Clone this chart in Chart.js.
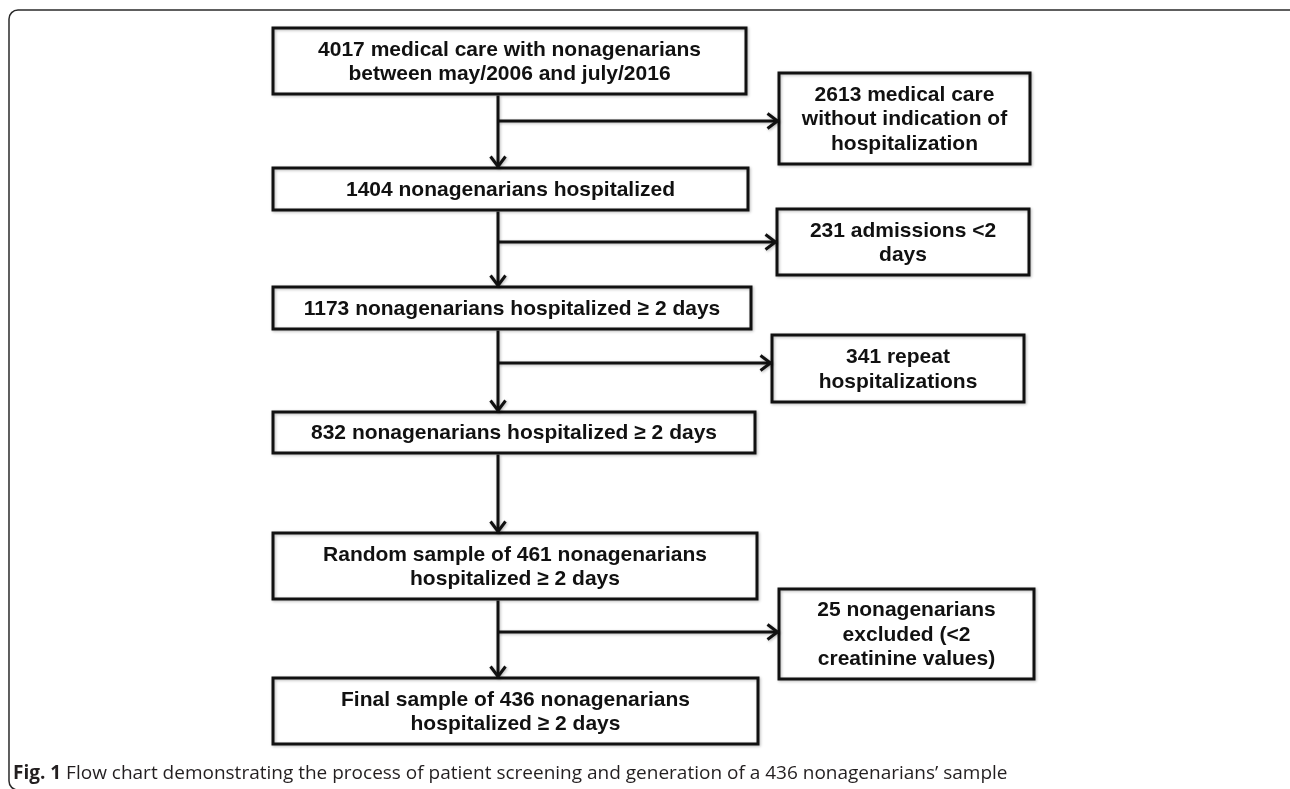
<!DOCTYPE html>
<html>
<head>
<meta charset="utf-8">
<script src="https://cdn.jsdelivr.net/npm/chart.js@4.4.1/dist/chart.umd.min.js"></script>
<style>
  html, body { margin: 0; padding: 0; background: #fff; }
  #wrap { position: relative; width: 1290px; height: 789px; }
</style>
</head>
<body>
<div id="wrap"><canvas id="flow"></canvas></div>
<script>
// ---- content ----
const stageLabels = [
  ['4017 medical care with nonagenarians', 'between may/2006 and july/2016'],
  ['1404 nonagenarians hospitalized'],
  ['1173 nonagenarians hospitalized \u2265 2 days'],
  ['832 nonagenarians hospitalized \u2265 2 days'],
  ['Random sample of 461 nonagenarians', 'hospitalized \u2265 2 days'],
  ['Final sample of 436 nonagenarians', 'hospitalized \u2265 2 days']
];
const excludedLabels = [
  ['2613 medical care', 'without indication of', 'hospitalization'],
  ['231 admissions <2', 'days'],
  ['341 repeat', 'hospitalizations'],
  ['25 nonagenarians', 'excluded (<2', 'creatinine values)']
];
// stage index that each exclusion branches off from
const excludedAfter = [0, 1, 2, 4];
const captionBold = 'Fig. 1';
const captionText = ' Flow chart demonstrating the process of patient screening and generation of a 436 nonagenarians\u2019 sample';

// ---- layout (page units, y down) ----
const stageBoxes = [   // x0, x1, y0, y1
  [273, 746, 28, 94],
  [273, 748, 168, 210],
  [273, 751, 287, 329],
  [273, 755, 412, 453],
  [273, 757, 533, 599],
  [273, 758, 678, 744]
];
const sideBoxes = [
  [779, 1030, 73, 164],
  [777, 1029, 209, 275],
  [772, 1024, 335, 402],
  [779, 1034, 589, 679]
];
const branchY = [121, 242, 363, 632];
const spineX = 498;

const INK = '#111111';
const BOX_FONT = "bold 21px 'Liberation Sans', Arial, Helvetica, sans-serif";
const LINE_H = 24.5;

const flowPlugin = {
  id: 'flow',
  afterDraw(chart) {
    const { ctx, scales: { x, y } } = chart;
    const px = v => x.getPixelForValue(v);
    const py = v => y.getPixelForValue(v);
    ctx.save();

    // outer frame (right side runs off the page)
    ctx.strokeStyle = '#2a2a2a';
    ctx.lineWidth = 1.5;
    ctx.beginPath();
    ctx.roundRect(px(9), py(10), px(1298) - px(9), py(790) - py(10), 9);
    ctx.stroke();

    ctx.lineJoin = 'miter';
    ctx.lineCap = 'butt';
    ctx.strokeStyle = INK;
    ctx.lineWidth = 3;
    ctx.shadowColor = 'rgba(0,0,0,0.28)';
    ctx.shadowBlur = 3;
    ctx.shadowOffsetX = 1;
    ctx.shadowOffsetY = 1;

    const box = b => {
      ctx.beginPath();
      ctx.rect(px(b[0]), py(b[2]), px(b[1]) - px(b[0]), py(b[3]) - py(b[2]));
      ctx.stroke();
    };
    const seg = (x0, y0, x1, y1) => {
      ctx.beginPath();
      ctx.moveTo(px(x0), py(y0));
      ctx.lineTo(px(x1), py(y1));
      ctx.stroke();
    };
    const headDown = (xt, yt) => {
      ctx.beginPath();
      ctx.moveTo(px(xt - 7.5), py(yt - 11));
      ctx.lineTo(px(xt), py(yt - 1));
      ctx.lineTo(px(xt + 7.5), py(yt - 11));
      ctx.stroke();
    };
    const headRight = (xt, yt) => {
      ctx.beginPath();
      ctx.moveTo(px(xt - 11), py(yt - 7.5));
      ctx.lineTo(px(xt - 1), py(yt));
      ctx.lineTo(px(xt - 11), py(yt + 7.5));
      ctx.stroke();
    };

    stageBoxes.forEach(box);
    sideBoxes.forEach(box);

    // vertical spine with arrowheads
    for (let i = 0; i < stageBoxes.length - 1; i++) {
      const top = stageBoxes[i][3] + 1.5;
      const bot = stageBoxes[i + 1][2] - 1.5;
      seg(spineX, top, spineX, bot);
      headDown(spineX, bot + 1);
    }
    // exclusion branches
    excludedAfter.forEach((s, k) => {
      const xe = sideBoxes[k][0] - 1.5;
      seg(spineX, branchY[k], xe, branchY[k]);
      headRight(xe + 1, branchY[k]);
    });

    // texts
    ctx.shadowColor = 'transparent';
    ctx.fillStyle = INK;
    ctx.font = BOX_FONT;
    ctx.textAlign = 'center';
    ctx.textBaseline = 'middle';
    const label = (b, lines) => {
      const cx = (b[0] + b[1]) / 2;
      const cy = (b[2] + b[3]) / 2 + 1;
      lines.forEach((t, i) => {
        ctx.fillText(t, px(cx), py(cy + (i - (lines.length - 1) / 2) * LINE_H));
      });
    };
    stageBoxes.forEach((b, i) => label(b, stageLabels[i]));
    sideBoxes.forEach((b, i) => label(b, excludedLabels[i]));

    // caption
    ctx.textAlign = 'left';
    ctx.textBaseline = 'alphabetic';
    ctx.fillStyle = '#231f20';
    ctx.font = "bold 19px 'Open Sans', sans-serif";
    ctx.fillText(captionBold, px(13), py(779));
    const w = ctx.measureText(captionBold).width;
    ctx.font = "19px 'Open Sans', sans-serif";
    ctx.fillText(captionText, px(13) + w, py(779));

    ctx.restore();
  }
};

new Chart(document.getElementById('flow'), {
  type: 'scatter',
  data: { datasets: [{ data: [], pointRadius: 0 }] },
  options: {
    responsive: true,
    maintainAspectRatio: false,
    animation: false,
    layout: { padding: 0 },
    plugins: { legend: { display: false }, tooltip: { enabled: false } },
    scales: {
      x: { type: 'linear', min: 0, max: 1290, display: false },
      y: { type: 'linear', min: 0, max: 789, reverse: true, display: false }
    }
  },
  plugins: [flowPlugin]
});
</script>
</body>
</html>
